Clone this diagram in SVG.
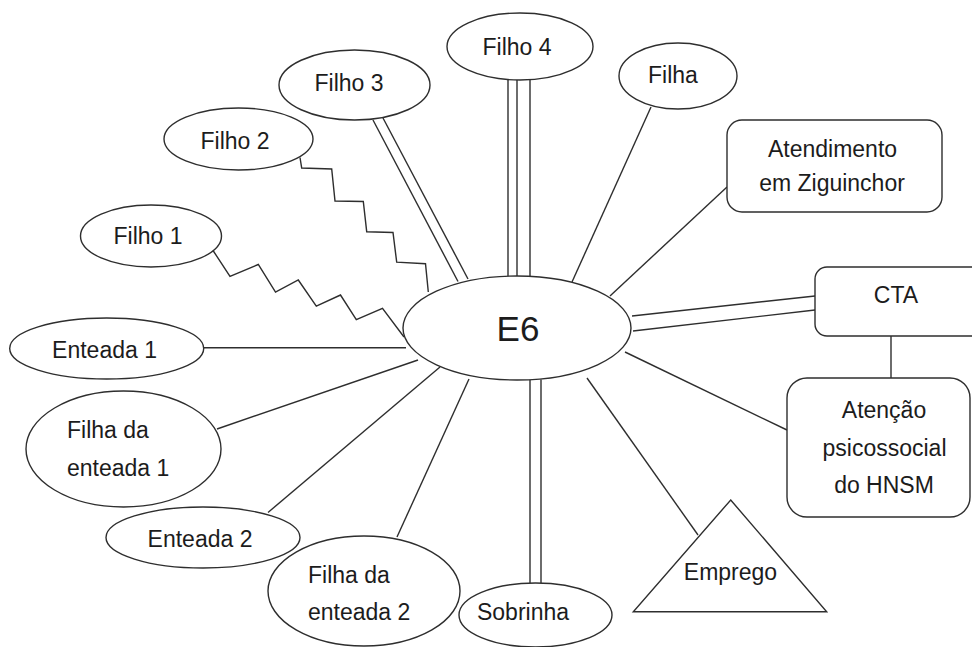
<svg xmlns="http://www.w3.org/2000/svg" width="972" height="647" viewBox="0 0 972 647">
  <style>
    .shape { fill: #ffffff; stroke: #2e2e2e; stroke-width: 1.4; }
    .link { fill: none; stroke: #2e2e2e; stroke-width: 1.4; stroke-linejoin: miter; }
    .label { font-family: "Liberation Sans", Arial, sans-serif; font-size: 23px; fill: #1c1c1c; }
    .mid { text-anchor: middle; }
    .big { font-size: 35px; }
  </style>
  <rect width="972" height="647" fill="#ffffff"/>

  <!-- connectors -->
  <g id="connectors">
    <!-- zigzag ties -->
    <polyline class="link" points="212.7,250 230,276.5 258.3,264.5 275.5,292 298.3,280 316.3,306.2 340.5,295 356.3,319.6 382.5,308.3 404,337"/>
    <polyline class="link" points="300,157.5 301.7,168 331.7,169 335,201 363.3,201.5 366.7,231.7 393,232.5 396.7,262.2 425.5,263.7 428.3,292"/>
    <!-- double line to Filho 3 -->
    <line class="link" x1="373" y1="120" x2="458" y2="281.5"/>
    <line class="link" x1="383" y1="118" x2="468" y2="279"/>
    <!-- triple line to Filho 4 -->
    <line class="link" x1="508" y1="80" x2="508" y2="276.5"/>
    <line class="link" x1="517" y1="80" x2="517" y2="276"/>
    <line class="link" x1="530" y1="80" x2="530" y2="276.5"/>
    <!-- single lines -->
    <line class="link" x1="651" y1="107" x2="572" y2="282"/>
    <line class="link" x1="610" y1="296" x2="727" y2="187"/>
    <line class="link" x1="632" y1="316" x2="815" y2="296"/>
    <line class="link" x1="633" y1="331" x2="815" y2="310"/>
    <line class="link" x1="891" y1="336" x2="891" y2="378"/>
    <line class="link" x1="625" y1="352" x2="787" y2="430"/>
    <line class="link" x1="587" y1="378" x2="698" y2="535"/>
    <!-- double line to Sobrinha -->
    <line class="link" x1="530" y1="380" x2="530" y2="583"/>
    <line class="link" x1="541" y1="379.5" x2="541" y2="583"/>
    <line class="link" x1="469" y1="379" x2="397" y2="537"/>
    <line class="link" x1="440" y1="367" x2="268" y2="512.5"/>
    <line class="link" x1="418" y1="360" x2="217" y2="429"/>
    <line class="link" x1="204" y1="347.7" x2="406" y2="347.7"/>
  </g>

  <!-- central node -->
  <g id="e6">
    <ellipse class="shape" cx="517" cy="328" rx="114" ry="52"/>
    <text class="label mid big" x="518" y="341">E6</text>
  </g>

  <g id="filho1">
    <ellipse class="shape" cx="151" cy="236" rx="70.5" ry="31"/>
    <text class="label mid" x="148" y="244">Filho 1</text>
  </g>

  <g id="filho2">
    <ellipse class="shape" cx="238.5" cy="139" rx="74.5" ry="31"/>
    <text class="label mid" x="235" y="149">Filho 2</text>
  </g>

  <g id="filho3">
    <ellipse class="shape" cx="354.5" cy="85" rx="75.5" ry="35"/>
    <text class="label mid" x="349" y="91">Filho 3</text>
  </g>

  <g id="filho4">
    <ellipse class="shape" cx="520" cy="46.5" rx="73" ry="33.5"/>
    <text class="label mid" x="517" y="55">Filho 4</text>
  </g>

  <g id="filha">
    <ellipse class="shape" cx="678" cy="76" rx="59" ry="33"/>
    <text class="label mid" x="673" y="83">Filha</text>
  </g>

  <g id="atendimento">
    <rect class="shape" x="727" y="120" width="215" height="92" rx="15" ry="15"/>
    <text class="label mid" x="832.5" y="157">Atendimento</text>
    <text class="label mid" x="832" y="191">em Ziguinchor</text>
  </g>

  <g id="cta">
    <rect class="shape" x="815" y="267" width="175" height="69" rx="12" ry="12"/>
    <text class="label mid" x="896" y="303">CTA</text>
  </g>

  <g id="atencao">
    <rect class="shape" x="787" y="378" width="183" height="139" rx="20" ry="20"/>
    <text class="label mid" x="884" y="418">Atenção</text>
    <text class="label mid" x="884.5" y="456">psicossocial</text>
    <text class="label mid" x="884" y="493">do HNSM</text>
  </g>

  <g id="emprego">
    <polygon class="shape" points="730.7,500 826.7,611.7 633.3,611.7"/>
    <text class="label mid" x="730.5" y="580">Emprego</text>
  </g>

  <g id="sobrinha">
    <ellipse class="shape" cx="535.5" cy="615" rx="76.5" ry="32"/>
    <text class="label mid" x="523" y="620">Sobrinha</text>
  </g>

  <g id="filha-enteada2">
    <ellipse class="shape" cx="364" cy="591" rx="96" ry="55"/>
    <text class="label" x="308" y="583">Filha da</text>
    <text class="label" x="308" y="620">enteada 2</text>
  </g>

  <g id="enteada2">
    <ellipse class="shape" cx="203" cy="537.5" rx="97" ry="30.5"/>
    <text class="label mid" x="200" y="547">Enteada 2</text>
  </g>

  <g id="filha-enteada1">
    <ellipse class="shape" cx="123.5" cy="449" rx="97.5" ry="58"/>
    <text class="label" x="67" y="438">Filha da</text>
    <text class="label" x="67" y="476">enteada 1</text>
  </g>

  <g id="enteada1">
    <ellipse class="shape" cx="106.7" cy="348.5" rx="97" ry="30.5"/>
    <text class="label mid" x="104.5" y="358">Enteada 1</text>
  </g>
</svg>
